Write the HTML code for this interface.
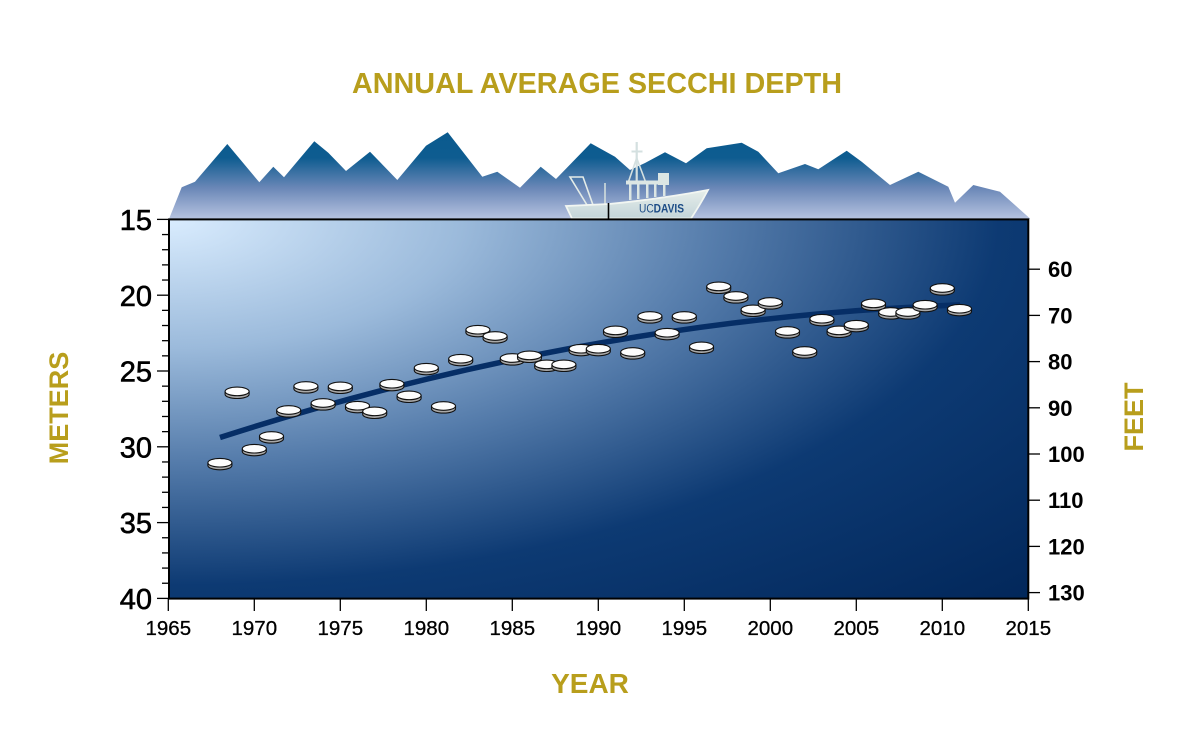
<!DOCTYPE html>
<html>
<head>
<meta charset="utf-8">
<style>
html,body{margin:0;padding:0;background:#fff;}
svg{display:block;}
</style>
</head>
<body>
<svg width="1200" height="750" viewBox="0 0 1200 750" xmlns="http://www.w3.org/2000/svg">
<defs>
  <radialGradient id="bg" gradientUnits="objectBoundingBox" cx="0" cy="0" r="1.42" fx="0" fy="0">
    <stop offset="0" stop-color="#d9ecfe"/>
    <stop offset="0.24" stop-color="#9bbadb"/>
    <stop offset="0.45" stop-color="#557cab"/>
    <stop offset="0.68" stop-color="#0d3a73"/>
    <stop offset="1" stop-color="#02275a"/>
  </radialGradient>
  <linearGradient id="mt" gradientUnits="userSpaceOnUse" x1="0" y1="132" x2="0" y2="218">
    <stop offset="0" stop-color="#0a5a8e"/>
    <stop offset="0.3" stop-color="#0e5c90"/>
    <stop offset="0.65" stop-color="#6a87b7"/>
    <stop offset="1" stop-color="#b4c1df"/>
  </linearGradient>
  <linearGradient id="hull" x1="0" y1="0" x2="0" y2="1">
    <stop offset="0" stop-color="#e6eeea"/>
    <stop offset="1" stop-color="#c3d4d9"/>
  </linearGradient>
  <g id="d">
    <ellipse cx="0" cy="1.5" rx="12" ry="4.3" fill="#a8a8a8" stroke="#111" stroke-width="1.1"/>
    <rect x="-12" y="-1.3" width="24" height="2.8" fill="#b0b0b0"/>
    <line x1="-12" y1="-1.3" x2="-12" y2="1.5" stroke="#111" stroke-width="1.1"/>
    <line x1="12" y1="-1.3" x2="12" y2="1.5" stroke="#111" stroke-width="1.1"/>
    <ellipse cx="0" cy="-1.3" rx="12" ry="4.3" fill="#fdfdfd" stroke="#111" stroke-width="1.1"/>
  </g>
</defs>

<text x="597" y="93" text-anchor="middle" font-family="Liberation Sans, Arial, sans-serif" font-weight="bold" font-size="28.5" fill="#b89e1c" textLength="490" lengthAdjust="spacingAndGlyphs">ANNUAL AVERAGE SECCHI DEPTH</text>

<polygon fill="url(#mt)" points="169,219 181.7,187.3 195,181.7 227.3,144 259.3,182.3 273.3,166.7 284,177.3 314.3,141.3 328.3,152.7 346,171 370,151.7 397.3,180 426,145.7 447.7,132.3 482.3,176.7 497.3,171.7 520,187.7 540.7,166.7 556,179 590.7,143.3 615,156.7 630,170 645,163 665,152.3 686,163.3 706.7,148.3 741.7,142.7 758.3,151.7 778.3,173.3 805,164 818.3,169.3 846.7,150.7 861.7,161.7 890,185 918.3,171.7 948.3,186.7 955,202.7 973.3,185 1000,191.7 1030,218.5 1030,219 169,219"/>

<g>
  <polygon points="570,177 583,177 593,205 587,205" fill="none" stroke="#e4ece8" stroke-width="1.6"/>
  <line x1="605" y1="183" x2="605" y2="205" stroke="#d8e2de" stroke-width="1.5"/>
  <line x1="636.7" y1="142" x2="636.7" y2="184" stroke="#d4e0e0" stroke-width="2.2"/>
  <line x1="631.5" y1="151.5" x2="642.5" y2="151.5" stroke="#d4e0e0" stroke-width="2"/>
  <line x1="636.7" y1="158" x2="628" y2="183" stroke="#d4e0e0" stroke-width="1.6"/>
  <line x1="636.7" y1="158" x2="646" y2="183" stroke="#d4e0e0" stroke-width="1.6"/>
  <rect x="626" y="180.5" width="42" height="4" fill="#dce6e4"/>
  <rect x="658" y="173" width="11" height="12" fill="#dce6e4"/>
  <rect x="629" y="184" width="2.5" height="16" fill="#dce6e4"/>
  <rect x="637" y="184" width="2.5" height="15" fill="#dce6e4"/>
  <rect x="646" y="184" width="2.5" height="14" fill="#dce6e4"/>
  <rect x="654" y="184" width="2.5" height="13" fill="#dce6e4"/>
  <rect x="663" y="184" width="2.5" height="12" fill="#dce6e4"/>
  <path d="M566,206 L609,204 Q660,199 708,190 Q700,205 691,218.5 L572,218.5 Z" fill="url(#hull)" stroke="#f2f6f2" stroke-width="1.8"/>
  <text x="639" y="212.5" font-family="Liberation Sans, Arial, sans-serif" font-size="12" fill="#1c4c86" textLength="45" lengthAdjust="spacingAndGlyphs">UC<tspan font-weight="bold">DAVIS</tspan></text>
  <line x1="608.5" y1="203" x2="608.5" y2="219" stroke="#000" stroke-width="1.6"/>
</g>

<rect x="169" y="219.4" width="859.3" height="379" fill="url(#bg)"/>

<path d="M220,437.5 Q590,318.3 960,304.9" fill="none" stroke="#062e66" stroke-width="5.5"/>

<use href="#d" x="219.9" y="464"/>
<use href="#d" x="237.1" y="392.7"/>
<use href="#d" x="254.3" y="450"/>
<use href="#d" x="271.5" y="437.3"/>
<use href="#d" x="288.7" y="411.3"/>
<use href="#d" x="305.9" y="387.3"/>
<use href="#d" x="323.1" y="404.3"/>
<use href="#d" x="340.3" y="387.7"/>
<use href="#d" x="357.5" y="407"/>
<use href="#d" x="374.7" y="412.7"/>
<use href="#d" x="391.9" y="385"/>
<use href="#d" x="409.1" y="396.7"/>
<use href="#d" x="426.3" y="369"/>
<use href="#d" x="443.5" y="407.3"/>
<use href="#d" x="460.7" y="360"/>
<use href="#d" x="477.9" y="331"/>
<use href="#d" x="495.1" y="337.3"/>
<use href="#d" x="512.3" y="359.3"/>
<use href="#d" x="529.5" y="356.7"/>
<use href="#d" x="546.7" y="365.7"/>
<use href="#d" x="563.9" y="365.7"/>
<use href="#d" x="581.1" y="350"/>
<use href="#d" x="598.3" y="350"/>
<use href="#d" x="615.5" y="331.7"/>
<use href="#d" x="632.7" y="353.3"/>
<use href="#d" x="649.9" y="317.3"/>
<use href="#d" x="667.1" y="334"/>
<use href="#d" x="684.3" y="317.3"/>
<use href="#d" x="701.5" y="347.7"/>
<use href="#d" x="718.7" y="287.7"/>
<use href="#d" x="735.9" y="297.3"/>
<use href="#d" x="753.1" y="310.7"/>
<use href="#d" x="770.3" y="303.3"/>
<use href="#d" x="787.5" y="332.3"/>
<use href="#d" x="804.7" y="352.3"/>
<use href="#d" x="821.9" y="320"/>
<use href="#d" x="839.1" y="331.7"/>
<use href="#d" x="856.3" y="326"/>
<use href="#d" x="873.5" y="304.7"/>
<use href="#d" x="890.7" y="313.3"/>
<use href="#d" x="907.9" y="313.3"/>
<use href="#d" x="925.1" y="306"/>
<use href="#d" x="942.3" y="289.3"/>
<use href="#d" x="959.5" y="310"/>

<rect x="169" y="219.4" width="859.3" height="379.2" fill="none" stroke="#000" stroke-width="2"/>

<g stroke="#000" stroke-width="1.3">
  <line x1="157" y1="219.4" x2="169" y2="219.4"/>
  <line x1="162" y1="234.56" x2="169" y2="234.56"/>
  <line x1="162" y1="249.72" x2="169" y2="249.72"/>
  <line x1="162" y1="264.88" x2="169" y2="264.88"/>
  <line x1="162" y1="280.04" x2="169" y2="280.04"/>
  <line x1="157" y1="295.2" x2="169" y2="295.2"/>
  <line x1="162" y1="310.36" x2="169" y2="310.36"/>
  <line x1="162" y1="325.52" x2="169" y2="325.52"/>
  <line x1="162" y1="340.68" x2="169" y2="340.68"/>
  <line x1="162" y1="355.84" x2="169" y2="355.84"/>
  <line x1="157" y1="371" x2="169" y2="371"/>
  <line x1="162" y1="386.16" x2="169" y2="386.16"/>
  <line x1="162" y1="401.32" x2="169" y2="401.32"/>
  <line x1="162" y1="416.48" x2="169" y2="416.48"/>
  <line x1="162" y1="431.64" x2="169" y2="431.64"/>
  <line x1="157" y1="446.8" x2="169" y2="446.8"/>
  <line x1="162" y1="461.96" x2="169" y2="461.96"/>
  <line x1="162" y1="477.12" x2="169" y2="477.12"/>
  <line x1="162" y1="492.28" x2="169" y2="492.28"/>
  <line x1="162" y1="507.44" x2="169" y2="507.44"/>
  <line x1="157" y1="522.6" x2="169" y2="522.6"/>
  <line x1="162" y1="537.76" x2="169" y2="537.76"/>
  <line x1="162" y1="552.92" x2="169" y2="552.92"/>
  <line x1="162" y1="568.08" x2="169" y2="568.08"/>
  <line x1="162" y1="583.24" x2="169" y2="583.24"/>
  <line x1="157" y1="598.4" x2="169" y2="598.4"/>
</g>
<g font-family="Liberation Sans, Arial, sans-serif" font-size="29" fill="#000" text-anchor="end" stroke="#000" stroke-width="0.6">
  <text x="152" y="230">15</text>
  <text x="152" y="305.8">20</text>
  <text x="152" y="381.6">25</text>
  <text x="152" y="457.4">30</text>
  <text x="152" y="533.2">35</text>
  <text x="152" y="609">40</text>
</g>

<g stroke="#000" stroke-width="1.3">
  <line x1="1028" y1="269.2" x2="1040" y2="269.2"/>
  <line x1="1028" y1="315.4" x2="1040" y2="315.4"/>
  <line x1="1028" y1="361.6" x2="1040" y2="361.6"/>
  <line x1="1028" y1="407.8" x2="1040" y2="407.8"/>
  <line x1="1028" y1="454.0" x2="1040" y2="454.0"/>
  <line x1="1028" y1="500.2" x2="1040" y2="500.2"/>
  <line x1="1028" y1="546.4" x2="1040" y2="546.4"/>
  <line x1="1028" y1="592.6" x2="1040" y2="592.6"/>
</g>
<g font-family="Liberation Sans, Arial, sans-serif" font-size="22" font-weight="bold" fill="#000">
  <text x="1048" y="277.2">60</text>
  <text x="1048" y="323.4">70</text>
  <text x="1048" y="369.6">80</text>
  <text x="1048" y="415.8">90</text>
  <text x="1048" y="462">100</text>
  <text x="1048" y="508.2">110</text>
  <text x="1048" y="554.4">120</text>
  <text x="1048" y="600.6">130</text>
</g>

<g stroke="#000" stroke-width="1.3">
  <line x1="168.3" y1="599" x2="168.3" y2="611"/>
  <line x1="254.3" y1="599" x2="254.3" y2="611"/>
  <line x1="340.3" y1="599" x2="340.3" y2="611"/>
  <line x1="426.3" y1="599" x2="426.3" y2="611"/>
  <line x1="512.3" y1="599" x2="512.3" y2="611"/>
  <line x1="598.3" y1="599" x2="598.3" y2="611"/>
  <line x1="684.3" y1="599" x2="684.3" y2="611"/>
  <line x1="770.3" y1="599" x2="770.3" y2="611"/>
  <line x1="856.3" y1="599" x2="856.3" y2="611"/>
  <line x1="942.3" y1="599" x2="942.3" y2="611"/>
  <line x1="1028.3" y1="599" x2="1028.3" y2="611"/>
</g>
<g font-family="Liberation Sans, Arial, sans-serif" font-size="20.5" fill="#000" text-anchor="middle" stroke="#000" stroke-width="0.3">
  <text x="168.3" y="635">1965</text>
  <text x="254.3" y="635">1970</text>
  <text x="340.3" y="635">1975</text>
  <text x="426.3" y="635">1980</text>
  <text x="512.3" y="635">1985</text>
  <text x="598.3" y="635">1990</text>
  <text x="684.3" y="635">1995</text>
  <text x="770.3" y="635">2000</text>
  <text x="856.3" y="635">2005</text>
  <text x="942.3" y="635">2010</text>
  <text x="1028.3" y="635">2015</text>
</g>

<text x="590" y="693" text-anchor="middle" font-family="Liberation Sans, Arial, sans-serif" font-weight="bold" font-size="28" fill="#b89e1c">YEAR</text>
<text transform="translate(68,408) rotate(-90)" text-anchor="middle" font-family="Liberation Sans, Arial, sans-serif" font-weight="bold" font-size="27" fill="#b89e1c">METERS</text>
<text transform="translate(1143,417) rotate(-90)" text-anchor="middle" font-family="Liberation Sans, Arial, sans-serif" font-weight="bold" font-size="27" fill="#b89e1c">FEET</text>
</svg>
</body>
</html>
